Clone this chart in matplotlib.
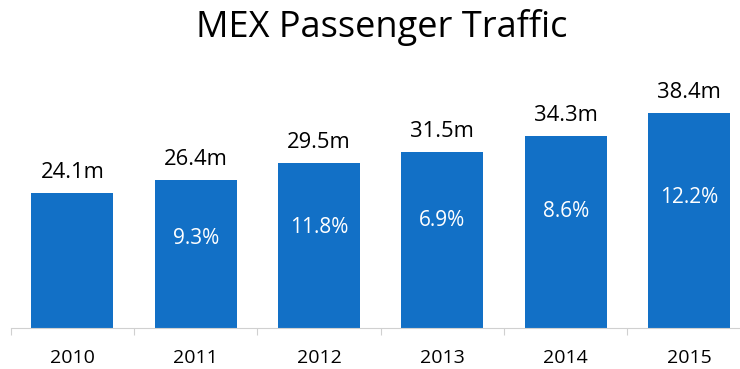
import matplotlib.pyplot as plt
import numpy as np

years = ['2010', '2011', '2012', '2013', '2014', '2015']
passengers = [24.1, 26.4, 29.5, 31.5, 34.3, 38.4]
growth = [None, '9.3%', '11.8%', '6.9%', '8.6%', '12.2%']

BLUE = '#1270c6'
plt.rcParams['font.family'] = ['Open Sans', 'DejaVu Sans']


def main():
    fig = plt.figure(figsize=(7.4, 3.69), dpi=100)
    ax = fig.add_axes([10.7 / 740, 40.7 / 369, 740 / 740, 268.3 / 369])

    x = np.arange(len(years))
    ax.bar(x, passengers, width=0.667, color=BLUE)

    for xi, v, g in zip(x, passengers, growth):
        ax.annotate(f'{v:.1f}m', (xi, v), xytext=(0, 10.8), textcoords='offset points',
                    ha='center', va='baseline', fontsize=15.8, color='black')
        if g:
            ax.text(xi, v * 0.61, g, ha='center', va='center', fontsize=15, color='white')

    ax.set_xlim(-0.5, 5.5)
    ax.set_ylim(0, 268.3 / 5.6)
    ax.set_xticks(x)
    ax.set_xticklabels(years, fontsize=14)
    ax.set_xticks(np.arange(-0.5, 6, 1), minor=True)
    ax.tick_params(axis='x', which='major', length=0, pad=15)
    ax.tick_params(axis='x', which='minor', length=5, color='#d0d0d0', width=0.8)
    ax.set_yticks([])
    for s in ['top', 'right', 'left']:
        ax.spines[s].set_visible(False)
    ax.spines['bottom'].set_color('#d0d0d0')
    ax.spines['bottom'].set_linewidth(0.8)

    fig.text(382 / 740, 1 - 28 / 369, 'MEX Passenger Traffic', ha='center', va='center',
             fontsize=26, color='black')

    fig.savefig('out.png', dpi=100)


if __name__ == "__main__":
    main()
